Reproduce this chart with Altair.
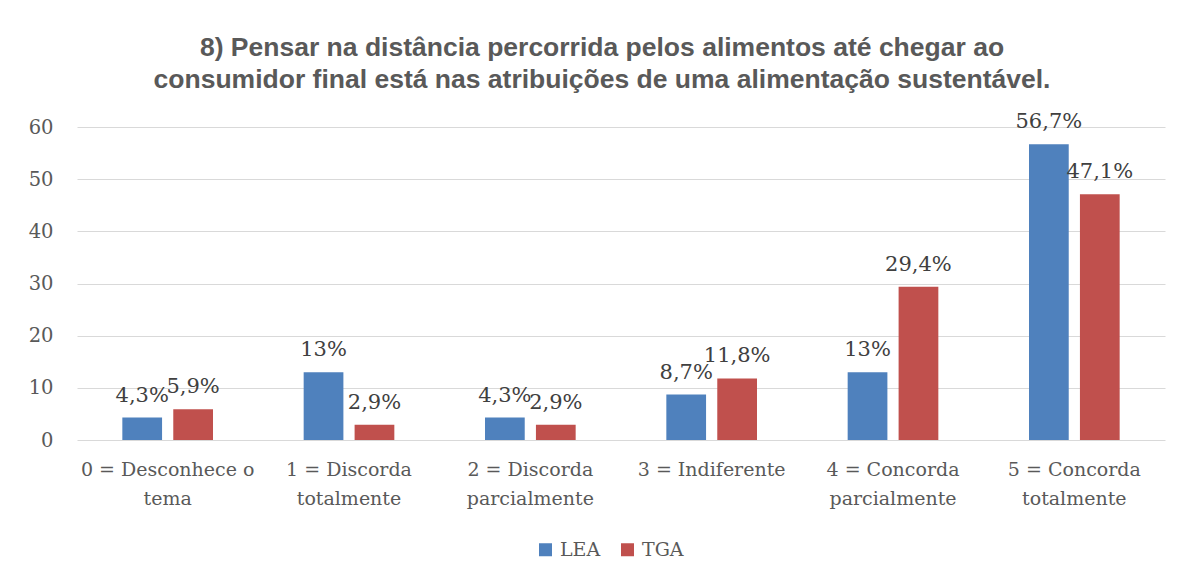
import altair as alt
import pandas as pd

categories = [
    "0 = Desconhece o\ntema",
    "1 = Discorda\ntotalmente",
    "2 = Discorda\nparcialmente",
    "3 = Indiferente",
    "4 = Concorda\nparcialmente",
    "5 = Concorda\ntotalmente",
]
series = ["LEA", "TGA"]
lea_values = [4.3, 13, 4.3, 8.7, 13, 56.7]
tga_values = [5.9, 2.9, 2.9, 11.8, 29.4, 47.1]
lea_labels = ["4,3%", "13%", "4,3%", "8,7%", "13%", "56,7%"]
tga_labels = ["5,9%", "2,9%", "2,9%", "11,8%", "29,4%", "47,1%"]
title_lines = [
    "8) Pensar na distância percorrida pelos alimentos até chegar ao",
    "consumidor final está nas atribuições de uma alimentação sustentável.",
]

rows = []
for c, v, l in zip(categories, lea_values, lea_labels):
    rows.append({"cat": c, "serie": "LEA", "valor": v, "rotulo": l})
for c, v, l in zip(categories, tga_values, tga_labels):
    rows.append({"cat": c, "serie": "TGA", "valor": v, "rotulo": l})
df = pd.DataFrame(rows)

SERIF = "DejaVu Serif"
GRAY = "#595959"

x_enc = alt.X(
    "cat:N",
    sort=categories,
    title=None,
    scale=alt.Scale(paddingInner=0.5, paddingOuter=0.25),
    axis=alt.Axis(
        labelExpr="split(datum.label, '\\n')",
        labelAngle=0,
        labelFont=SERIF,
        labelFontSize=19,
        labelColor=GRAY,
        labelLineHeight=29,
        labelPadding=20,
        labelBaseline="top",
        ticks=False,
        domain=False,
        grid=False,
    ),
)
xoff = alt.XOffset(
    "serie:N", sort=series, scale=alt.Scale(paddingInner=0.22, paddingOuter=0)
)
y_enc = alt.Y(
    "valor:Q",
    title=None,
    scale=alt.Scale(domain=[0, 60], nice=False),
    axis=alt.Axis(
        values=[0, 10, 20, 30, 40, 50, 60],
        labelFont=SERIF,
        labelFontSize=19.5,
        labelColor=GRAY,
        labelPadding=24,
        ticks=False,
        domain=False,
        gridColor="#d9d9d9",
        gridWidth=1,
    ),
)
color_enc = alt.Color(
    "serie:N",
    sort=series,
    scale=alt.Scale(domain=series, range=["#4F81BD", "#C0504D"]),
    legend=alt.Legend(
        title=None,
        orient="none",
        direction="horizontal",
        legendX=459,
        legendY=413,
        symbolType="square",
        symbolSize=169,
        symbolStrokeWidth=0,
        labelFont=SERIF,
        labelFontSize=19,
        labelColor=GRAY,
        labelOffset=5,
        columnPadding=17,
        padding=0,
    ),
)

bars = alt.Chart(df).mark_bar().encode(x=x_enc, xOffset=xoff, y=y_enc, color=color_enc)
labels = alt.Chart(df).mark_text(
    font=SERIF, fontSize=21, color="#404040", dy=-16, baseline="alphabetic"
).encode(x=x_enc, xOffset=xoff, y=y_enc, text="rotulo:N")

chart = (
    alt.layer(bars, labels)
    .properties(
        width=1088,
        height=313,
        padding={"left": 69, "top": 119, "right": 6, "bottom": 131},
        autosize=alt.AutoSizeParams(type="none"),
        title=alt.TitleParams(
            text=title_lines,
            font="Liberation Sans",
            fontSize=26.5,
            fontWeight="bold",
            color=GRAY,
            anchor="middle",
            frame="group",
            lineHeight=31.5,
            offset=18,
            dx=-19,
        ),
    )
    .configure(background="white", view=alt.ViewConfig(strokeWidth=0, stroke="transparent"))
)

chart.save("out.html", embed_options={"renderer": "svg", "actions": False})
